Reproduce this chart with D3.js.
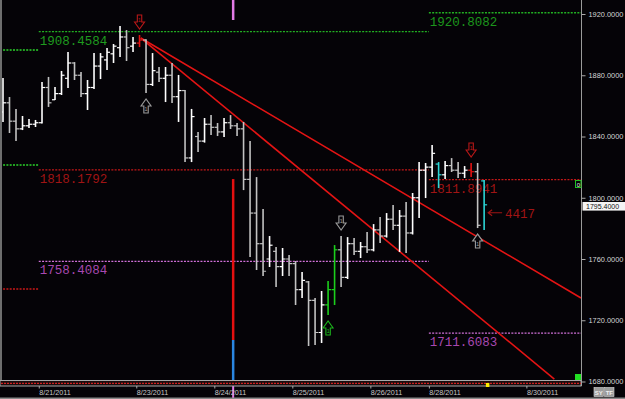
<!DOCTYPE html>
<html>
<head>
<meta charset="utf-8">
<script src="https://cdn.jsdelivr.net/npm/d3@7"></script>
<style>
  html, body { margin: 0; padding: 0; background: #050307; }
  svg { display: block; }
</style>
</head>
<body>
<div id="chart"></div>
<script>
// OHLC bars (one per session slot)
const barOpen  = [1856,1862,1850,1845,1847,1848,1849,1872,1864,1868,1878,1888,1880,1868,1872,1886,1890,1894,1898,1905,1899,1901,1903,1874,1882,1878,1880,1866,1870,1826,1840,1837,1848,1846,1843,1849,1847,1845,1812,1790,1770,1760,1765,1755,1760,1757,1740,1745,1733,1712,1730,1740,1766,1748,1770,1765,1768,1766,1779,1775,1786,1782,1788,1777,1800,1818,1820,1822,1815,1821,1818,1816,1818,1817,1811];
const barHigh  = [1878.2,1865.8,1858.0,1853.4,1851.4,1850.8,1875.6,1878.9,1872.3,1882.8,1895.2,1888.6,1882.1,1876.9,1894.5,1894.5,1897.8,1900.4,1912.2,1909.5,1905.0,1906.3,1903.5,1894.5,1885.4,1885.4,1888.0,1880.2,1870.4,1858.0,1842.9,1852.1,1854.0,1848.8,1852.1,1854.0,1848.8,1849.5,1837.0,1813.5,1792.6,1775.0,1767.8,1767.2,1762.6,1758.7,1751.5,1745.6,1734.5,1739.1,1745.6,1769.1,1775.0,1774.3,1773.7,1771.1,1777.6,1782.8,1787.4,1790.0,1795.2,1792.0,1797.2,1803.1,1823.3,1822.7,1834.4,1823.3,1824.0,1825.9,1823.3,1820.7,1822.7,1822.7,1811.6];
const barLow   = [1849.5,1842.3,1837.0,1844.2,1845.5,1846.2,1848.5,1859.3,1863.8,1867.1,1871.7,1876.9,1865.8,1857.3,1871.0,1877.5,1883.4,1888.0,1891.9,1889.3,1895.2,1898.4,1868.4,1873.0,1875.6,1862.5,1861.9,1849.5,1823.3,1823.3,1829.9,1836.0,1841.0,1840.3,1839.7,1844.9,1840.3,1805.0,1761.3,1752.8,1748.9,1754.7,1741.7,1748.9,1748.9,1729.9,1734.5,1703.2,1703.8,1705.1,1723.4,1729.9,1741.7,1747.0,1762.6,1760.6,1763.9,1765.0,1770.4,1774.0,1778.9,1764.6,1763.9,1776.0,1786.8,1799.8,1813.5,1806.3,1812.2,1816.8,1812.9,1812.9,1813.5,1780.2,1778.9];
const barClose = [1862,1850,1845,1847,1848,1849,1872,1862,1868,1880,1888,1880,1868,1872,1886,1892,1895,1899,1905,1898,1901,1903,1874,1883,1878,1880,1866,1870,1826,1853,1837,1848,1846,1843,1849,1847,1845,1812,1790,1770,1752,1769,1755,1760,1757,1740,1746,1733,1712,1730,1740,1766,1748,1770,1765,1768,1766,1779,1775,1786,1782,1788,1777,1800,1818,1820,1829,1815,1821,1818,1816,1818,1817,1782,1795.4];
const specialBars = { 21: '#e41212', 50: '#1ccf1c', 51: '#1ccf1c', 67: '#2cd6d6', 72: '#e41212', 74: '#2cd6d6' };

// time axis
const dateTickIdx = [5.5, 20.5, 32.5, 44.5, 56.5, 65.5, 80.5];
const dateLabels = ['8/21/2011', '8/23/2011', '8/24/2011', '8/25/2011', '8/26/2011', '8/28/2011', '8/30/2011'];
const periodBounds = [0, 5.5, 65.5, 88.9];

// price axis
const priceTicks = [1920, 1880, 1840, 1800, 1760, 1720, 1680];
const lastPrice = 1795.4;

// pivot levels per period
const prevLevels = [1896.5, 1821.4, 1740.4];
const prevColors = ['#2bd42b', '#2bd42b', '#c81818'];
const weekLevels = [1908.4584, 1818.1792, 1758.4084];
const weekColors = ['#22b022', '#c41818', '#d070d8'];
const weekLabelColors = ['#1f9a1f', '#a01414', '#a848b0'];
const currLevels = [1920.8082, 1811.8941, 1711.6083];
const currColors = ['#22b022', '#c41818', '#d070d8'];
const currLabelColors = ['#1c961c', '#a01414', '#a848b0'];

// trend lines [index, price]
const trendStart = [21.2, 1904.3];
const trendEnds = [[88.9, 1734.5], [84.8, 1681.6]];

// marker arrows: bar index, direction, colour
const arrowBars = [21, 22, 52, 50, 72, 73];
const arrowDirs = ['down', 'up', 'down', 'up', 'down', 'up'];
const arrowColors = ['#b81818', '#9a9a9a', '#9a9a9a', '#1cb41c', '#b81818', '#9a9a9a'];

const W = 625, H = 399;
const plotRight = 581, plotBottom = 380.5;

const svg = d3.select('#chart').append('svg').attr('width', W).attr('height', H);
svg.append('rect').attr('width', W).attr('height', H).attr('fill', '#050307');

const x = d3.scaleLinear().domain([0, 88.9]).range([3, plotRight]);
const y = d3.scaleLinear().domain([1680, 1920]).range([381.5, 14]);

svg.append('clipPath').attr('id', 'plot')
  .append('rect').attr('x', 2).attr('y', 0).attr('width', plotRight - 2).attr('height', plotBottom);

const g = svg.append('g').attr('clip-path', 'url(#plot)');

// left border
svg.append('rect').attr('x', 0).attr('y', 0).attr('width', 2).attr('height', plotBottom).attr('fill', '#6e6e6e');

// Level lines
function drawLevels(levels, colors, i0, i1) {
  levels.forEach((v, i) => {
    g.append('line')
      .attr('x1', x(i0)).attr('x2', x(i1))
      .attr('y1', y(v)).attr('y2', y(v))
      .attr('stroke', colors[i]).attr('stroke-width', 1.3)
      .attr('stroke-dasharray', '2,1.3');
  });
}
drawLevels(prevLevels, prevColors, periodBounds[0] - 1, periodBounds[1]);
drawLevels(weekLevels, weekColors, periodBounds[1], periodBounds[2]);
drawLevels(currLevels, currColors, periodBounds[2], periodBounds[3]);

function drawLevelLabels(levels, colors, i0) {
  levels.forEach((v, i) => {
    g.append('text')
      .attr('x', x(i0) + 1).attr('y', y(v) + 13)
      .attr('fill', colors[i])
      .attr('font-family', 'Liberation Mono, DejaVu Sans Mono, monospace')
      .attr('font-size', '12.5px')
      .text(v.toFixed(4));
  });
}
drawLevelLabels(weekLevels, weekLabelColors, periodBounds[1]);
drawLevelLabels(currLevels, currLabelColors, periodBounds[2]);

// Vertical session marker
const vIdx = 35.4;
g.append('line').attr('x1', x(vIdx)).attr('x2', x(vIdx))
  .attr('y1', y(1812.2)).attr('y2', y(1707.1))
  .attr('stroke', '#e41010').attr('stroke-width', 2.5);
g.append('line').attr('x1', x(vIdx)).attr('x2', x(vIdx))
  .attr('y1', y(1707.1)).attr('y2', plotBottom)
  .attr('stroke', '#2a86e0').attr('stroke-width', 2.5);
g.append('line').attr('x1', x(vIdx)).attr('x2', x(vIdx))
  .attr('y1', 0).attr('y2', 20)
  .attr('stroke', '#e27ae6').attr('stroke-width', 2.5);
svg.append('line').attr('x1', x(vIdx)).attr('x2', x(vIdx))
  .attr('y1', plotBottom).attr('y2', H)
  .attr('stroke', '#e27ae6').attr('stroke-width', 2);

// Trend lines
trendEnds.forEach((e) => {
  g.append('line')
    .attr('x1', x(trendStart[0])).attr('y1', y(trendStart[1]))
    .attr('x2', x(e[0])).attr('y2', y(e[1]))
    .attr('stroke', '#e41414').attr('stroke-width', 1.6);
});

// OHLC bars
const bars = d3.range(barOpen.length).map((i) => ({
  i, o: barOpen[i], h: barHigh[i], l: barLow[i], c: barClose[i],
  color: specialBars[i] || (barClose[i] >= barOpen[i] ? '#ffffff' : '#c2c2c2'),
}));

const barG = g.selectAll('g.bar').data(bars).enter().append('g').attr('class', 'bar');
barG.append('line')
  .attr('x1', (d) => x(d.i)).attr('x2', (d) => x(d.i))
  .attr('y1', (d) => y(d.h)).attr('y2', (d) => y(d.l))
  .attr('stroke', (d) => d.color).attr('stroke-width', 1.6);
barG.append('line')
  .attr('x1', (d) => x(d.i) - 3).attr('x2', (d) => x(d.i))
  .attr('y1', (d) => y(d.o)).attr('y2', (d) => y(d.o))
  .attr('stroke', (d) => d.color).attr('stroke-width', 1.2);
barG.append('line')
  .attr('x1', (d) => x(d.i)).attr('x2', (d) => x(d.i) + 3)
  .attr('y1', (d) => y(d.c)).attr('y2', (d) => y(d.c))
  .attr('stroke', (d) => d.color).attr('stroke-width', 1.2);

// Arrow markers
function arrowPath(cx, y0, dir) {
  const h = 14, sw = 2.2, hw = 5;
  if (dir === 'down') {
    return `M${cx - sw},${y0} L${cx + sw},${y0} L${cx + sw},${y0 + h * 0.5} L${cx + hw},${y0 + h * 0.5} L${cx},${y0 + h} L${cx - hw},${y0 + h * 0.5} L${cx - sw},${y0 + h * 0.5} Z`;
  }
  return `M${cx - sw},${y0 + h} L${cx + sw},${y0 + h} L${cx + sw},${y0 + h * 0.5} L${cx + hw},${y0 + h * 0.5} L${cx},${y0} L${cx - hw},${y0 + h * 0.5} L${cx - sw},${y0 + h * 0.5} Z`;
}
arrowBars.forEach((bi, k) => {
  const cx = x(bi);
  const dir = arrowDirs[k];
  const y0 = dir === 'down' ? y(barHigh[bi]) - 20 : y(barLow[bi]) + 6;
  g.append('path').attr('d', arrowPath(cx, y0, dir))
    .attr('fill', '#050307').attr('stroke', arrowColors[k]).attr('stroke-width', 1.1);
  g.append('text').attr('x', cx).attr('y', dir === 'down' ? y0 + 7 : y0 + 12)
    .attr('text-anchor', 'middle').attr('fill', arrowColors[k])
    .attr('font-family', 'Liberation Sans, sans-serif').attr('font-size', '6px').text('1');
});

// Volume-style note on last bar
const lastI = barOpen.length - 1;
const noteY = y(lastPrice) + 8;
g.append('path')
  .attr('d', `M${x(lastI) + 18},${noteY} L${x(lastI) + 4},${noteY} M${x(lastI) + 8},${noteY - 3} L${x(lastI) + 4},${noteY} L${x(lastI) + 8},${noteY + 3}`)
  .attr('fill', 'none').attr('stroke', '#a01414').attr('stroke-width', 1.1);
g.append('text').attr('x', x(lastI) + 21).attr('y', noteY + 5)
  .attr('fill', '#a01414')
  .attr('font-family', 'Liberation Mono, DejaVu Sans Mono, monospace')
  .attr('font-size', '12.5px').text('4417');

// Right price axis
svg.append('line').attr('x1', plotRight + 0.5).attr('x2', plotRight + 0.5)
  .attr('y1', 0).attr('y2', 386).attr('stroke', '#9a9a9a').attr('stroke-width', 1);
const yAxis = svg.append('g').attr('transform', `translate(${plotRight + 0.5},0)`)
  .call(d3.axisRight(y).tickValues(priceTicks).tickSize(4).tickSizeOuter(0).tickPadding(3)
    .tickFormat((d) => d.toFixed(4)));
yAxis.select('.domain').remove();
yAxis.selectAll('.tick line').attr('stroke', '#aaa');
yAxis.selectAll('text').attr('fill', '#d4d4d4')
  .attr('font-family', 'Liberation Sans, Arial, sans-serif').attr('font-size', '7.4px');

// last price box
svg.append('rect').attr('x', plotRight + 1.5).attr('y', y(lastPrice) - 2.8)
  .attr('width', W - plotRight - 1.5).attr('height', 8.6).attr('fill', '#f4f4f4');
svg.append('text').attr('x', plotRight + 5).attr('y', y(lastPrice) + 4)
  .attr('fill', '#111').attr('font-family', 'Liberation Sans, Arial, sans-serif')
  .attr('font-size', '7px').text(lastPrice.toFixed(4));

// small boxes at axis edge
svg.append('rect').attr('x', 575.5).attr('y', 180.5).attr('width', 5.5).attr('height', 7)
  .attr('fill', '#050307').attr('stroke', '#22c022').attr('stroke-width', 1);
svg.append('text').attr('x', 578.3).attr('y', 186.5).attr('text-anchor', 'middle')
  .attr('fill', '#e8e8e8').attr('font-family', 'Liberation Sans, sans-serif').attr('font-size', '6px').text('0');
svg.append('rect').attr('x', 575).attr('y', 374).attr('width', 6).attr('height', 6).attr('fill', '#22e022');

// bottom strip
svg.append('rect').attr('x', 0).attr('y', plotBottom).attr('width', plotRight).attr('height', 5.5)
  .attr('fill', '#1a0c0c').attr('stroke', '#a8a8a8').attr('stroke-width', 1);
svg.append('line').attr('x1', 1).attr('x2', plotRight).attr('y1', 383.3).attr('y2', 383.3)
  .attr('stroke', '#d02020').attr('stroke-width', 1.3).attr('stroke-dasharray', '2,1');
svg.append('rect').attr('x', x(74.5) - 1.5).attr('y', 383).attr('width', 3.5).attr('height', 4).attr('fill', '#ffee00');

// date axis
const xAxis = svg.append('g').attr('transform', 'translate(0,386)')
  .call(d3.axisBottom(x).tickValues(dateTickIdx).tickSize(2.5).tickSizeOuter(0)
    .tickFormat((d, i) => dateLabels[i]));
xAxis.select('.domain').remove();
xAxis.selectAll('.tick line').attr('stroke', '#aaa');
xAxis.selectAll('text').attr('fill', '#c8c8c8').attr('text-anchor', 'start').attr('y', 3.5)
  .attr('font-family', 'Liberation Sans, Arial, sans-serif').attr('font-size', '7.2px');

// bottom rule
svg.append('rect').attr('x', 0).attr('y', 397.5).attr('width', W).attr('height', 1.5).attr('fill', '#8a8a8a');

// SY / TF buttons
['SY', 'TF'].forEach((t, k) => {
  const bx = 594 + k * 10.5;
  svg.append('rect').attr('x', bx).attr('y', 387.5).attr('width', 9.5).attr('height', 9)
    .attr('fill', '#9c9c9c').attr('stroke', '#dcdcdc').attr('stroke-width', 0.6);
  svg.append('text').attr('x', bx + 4.8).attr('y', 394.5).attr('text-anchor', 'middle')
    .attr('fill', '#f0f0f0').attr('font-family', 'Liberation Sans, sans-serif')
    .attr('font-weight', 'bold').attr('font-size', '6px').text(t);
});
</script>
</body>
</html>
